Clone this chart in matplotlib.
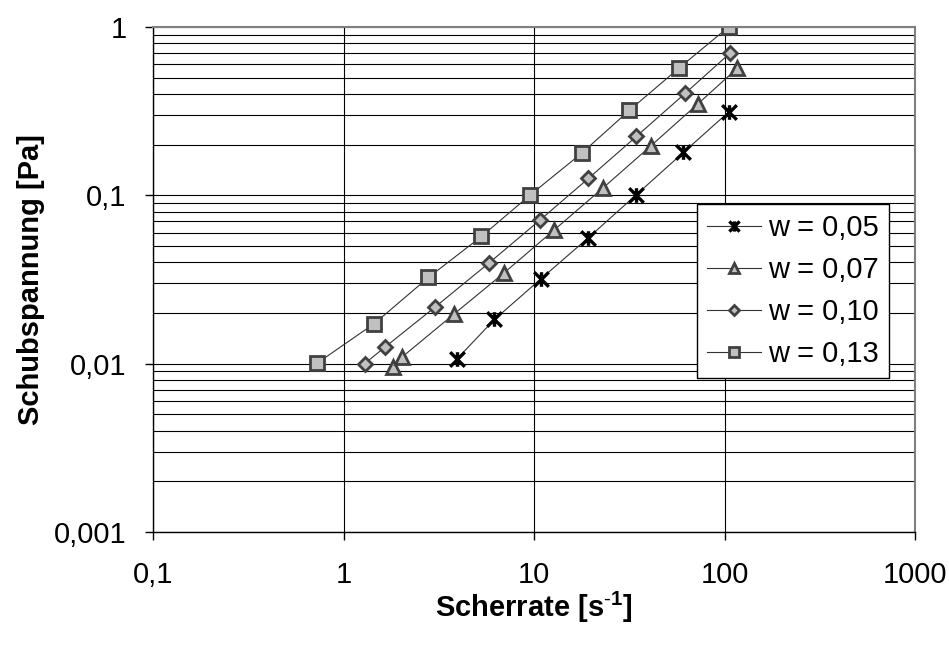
import matplotlib
matplotlib.use("Agg")
import matplotlib.pyplot as plt
from matplotlib.path import Path
from matplotlib.ticker import FixedLocator, NullFormatter, LogLocator

# (shear rate in 1/s, shear stress in Pa)
w005_x = [3.92, 6.2, 10.9, 19.3, 34.5, 60.9, 105]
w005_y = [0.0106, 0.0183, 0.032, 0.056, 0.101, 0.180, 0.312]
w007_x = [1.81, 2.04, 3.78, 7.0, 12.7, 22.9, 40.9, 72.2, 117]
w007_y = [0.0096, 0.0110, 0.0196, 0.0348, 0.062, 0.110, 0.196, 0.348, 0.570]
w010_x = [1.29, 1.66, 3.04, 5.77, 10.7, 19.3, 34.5, 62.4, 107]
w010_y = [0.0100, 0.0126, 0.0218, 0.0394, 0.071, 0.126, 0.224, 0.405, 0.70]
w013_x = [0.73, 1.45, 2.79, 5.3, 9.5, 17.8, 31.7, 58, 105]
w013_y = [0.0101, 0.0173, 0.0325, 0.057, 0.100, 0.178, 0.32, 0.573, 1.0]

series_labels = ["w = 0,05", "w = 0,07", "w = 0,10", "w = 0,13"]
x_ticks = [0.1, 1, 10, 100, 1000]
x_tick_labels = ["0,1", "1", "10", "100", "1000"]
y_ticks = [0.001, 0.01, 0.1, 1]
y_tick_labels = ["0,001", "0,01", "0,1", "1"]

FS = 21

plt.rcParams["font.family"] = ["Liberation Sans", "DejaVu Sans"]
plt.rcParams["mathtext.fontset"] = "custom"
plt.rcParams["mathtext.rm"] = "Liberation Sans"
plt.rcParams["mathtext.bf"] = "Liberation Sans:bold"
plt.rcParams["mathtext.default"] = "bf"

# Excel-style star: vertical bar plus an X
star = Path(
    [(0, -1), (0, 1), (-1, -1), (1, 1), (-1, 1), (1, -1)],
    [Path.MOVETO, Path.LINETO, Path.MOVETO, Path.LINETO, Path.MOVETO, Path.LINETO],
)

fig = plt.figure(figsize=(9.49, 6.47), dpi=100)
ax = fig.add_axes([153 / 949, 115 / 647, 762 / 949, 505 / 647])

fill = "#c0c0c0"
edge = "#404040"

ax.plot(w005_x, w005_y, marker=star, ms=10.5, mec="black", mfc="none",
        color="#333333", lw=0.8, markeredgewidth=2.4, label=series_labels[0])
ax.plot(w007_x, w007_y, marker="^", ms=10.5, mec=edge, mfc=fill,
        color="#333333", lw=0.8, markeredgewidth=2, label=series_labels[1])
ax.plot(w010_x, w010_y, marker="D", ms=7.5, mec=edge, mfc=fill,
        color="#333333", lw=0.8, markeredgewidth=2, label=series_labels[2])
ax.plot(w013_x, w013_y, marker="s", ms=10.5, mec=edge, mfc=fill,
        color="#333333", lw=0.8, markeredgewidth=2, label=series_labels[3])

ax.set_xscale("log")
ax.set_yscale("log")
ax.set_xlim(0.1, 1000)
ax.set_ylim(0.001, 1)

ax.xaxis.set_major_locator(FixedLocator(x_ticks))
ax.set_xticklabels(x_tick_labels)
ax.xaxis.set_minor_locator(FixedLocator([]))
ax.yaxis.set_major_locator(FixedLocator(y_ticks))
ax.set_yticklabels(y_tick_labels)
ax.yaxis.set_minor_locator(LogLocator(base=10, subs=range(2, 10)))
ax.yaxis.set_minor_formatter(NullFormatter())

ax.grid(True, which="major", axis="both", color="black", lw=0.8)
ax.grid(True, which="minor", axis="y", color="black", lw=0.8)
ax.set_axisbelow(True)

ax.tick_params(which="major", direction="out", length=6, width=1, color="black",
               labelsize=FS)
ax.tick_params(axis="x", pad=15)
ax.tick_params(axis="y", pad=13)
ax.tick_params(which="minor", length=0)

for side in ["left", "bottom"]:
    ax.spines[side].set_color("black")
    ax.spines[side].set_linewidth(1)
for side in ["top", "right"]:
    ax.spines[side].set_color("#808080")
    ax.spines[side].set_linewidth(1.5)

ax.set_xlabel(r"Scherrate [s$^{\text{-}1}$]", fontsize=FS, fontweight="bold")
ax.set_ylabel("Schubspannung [Pa]", fontsize=FS, fontweight="bold")
ax.xaxis.set_label_coords(0.5, -0.115)
ax.yaxis.set_label_coords(-0.142, 0.5)

leg = ax.legend(loc="upper left", bbox_to_anchor=(0.714, 0.6495),
                borderaxespad=0, fontsize=FS, frameon=True, fancybox=False,
                edgecolor="black", framealpha=1, handlelength=1.85,
                handletextpad=0.25, labelspacing=0.48, borderpad=0.35,
                markerscale=0.7)
leg.get_frame().set_linewidth(1)

fig.savefig("out.png", dpi=100)
